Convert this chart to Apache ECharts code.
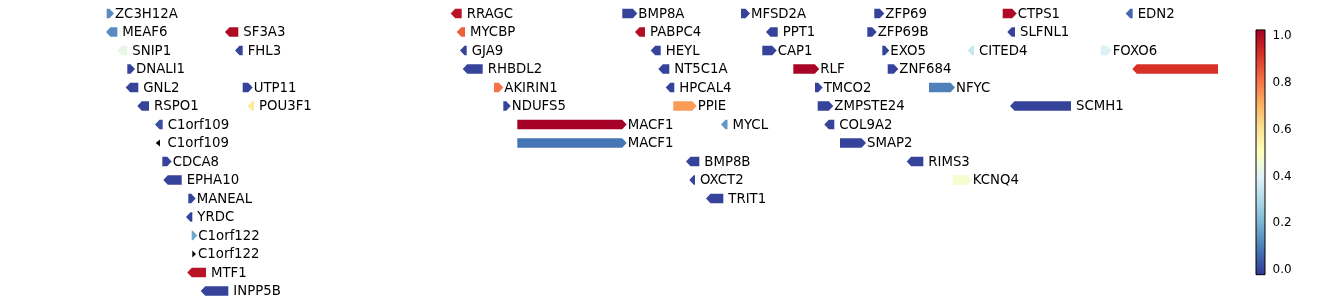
<!DOCTYPE html>
<html><head><meta charset="utf-8">
<script src="https://cdn.jsdelivr.net/npm/echarts@6/dist/echarts.min.js"></script>
<style>html,body{margin:0;padding:0;background:#fff}#c{width:1338px;height:305px}</style>
</head><body><div id="c"></div>
<script>
// ---- data (x in track units, row index from top, strand +1/-1, score, null = missing) ----
const geneNames  = ['ZC3H12A','MEAF6','SF3A3','SNIP1','FHL3','DNALI1','GNL2','UTP11','RSPO1','POU3F1',
  'C1orf109','C1orf109','CDCA8','EPHA10','MANEAL','YRDC','C1orf122','C1orf122','MTF1','INPP5B',
  'RRAGC','MYCBP','GJA9','RHBDL2','AKIRIN1','NDUFS5','MACF1','MACF1','BMP8A','PABPC4',
  'HEYL','NT5C1A','HPCAL4','PPIE','MYCL','BMP8B','OXCT2','TRIT1','MFSD2A','PPT1',
  'CAP1','RLF','TMCO2','ZMPSTE24','COL9A2','SMAP2','ZFP69','ZFP69B','EXO5','ZNF684',
  'NFYC','RIMS3','KCNQ4','CTPS1','SLFNL1','CITED4','SCMH1','EDN2','FOXO6',''];
const geneStart  = [106.7,106,225,117.3,235,127.3,125.7,242.7,137.3,247.7,
  155,155.7,162.3,163.3,188.3,186,191.7,192.3,187.3,200.7,
  450.7,456.7,460,462.7,494,503.3,517.3,517.3,622.3,635,
  650.7,658.3,665.7,673.3,721,686,689.3,706,741,766,
  762.3,793.3,815,817.7,824.3,840,874.3,867.3,882.3,887.7,
  929,906.7,952.7,1002.7,1007.3,967.7,1010,1125.7,1100.7,1132.3];
const geneEnd    = [114,117.3,238.3,127.3,242.7,135,138.3,252.7,149,254,
  162.7,160,171.7,181.7,195.7,192.3,197.3,196,206,228.3,
  461.7,465,466.7,482.7,503.3,510.7,626.7,626.7,637.3,645,
  660.7,669.3,674.3,696.7,727.5,699.3,695,723.3,750,777.7,
  776.7,819.3,822.7,833.3,834.3,866,884.3,876.7,889.3,898.3,
  955,923.3,971.7,1016.7,1015,974,1071,1132.7,1111.7,1300];
const geneRow    = [0,1,1,2,2,3,4,4,5,5, 6,7,8,9,10,11,12,13,14,15,
  0,1,2,3,4,5,6,7,0,1, 2,3,4,5,6,8,9,10,0,1,
  2,3,4,5,6,7,0,1,2,3, 4,8,9,0,1,2,5,0,2,3];
const geneStrand = [1,-1,-1,-1,-1,1,-1,1,-1,-1, -1,-1,1,-1,1,-1,1,1,-1,-1,
  -1,-1,-1,-1,1,1,1,1,1,-1, -1,-1,-1,1,-1,-1,-1,-1,1,-1,
  1,1,1,1,-1,1,1,1,1,1, 1,-1,1,1,-1,-1,-1,-1,1,-1];
const geneScore  = [0.14,0.14,0.98,0.43,0.02,0.02,0.02,0.02,0.02,0.57,
  0.04,null,0.02,0.02,0.02,0.02,0.19,null,0.96,0.02,
  0.96,0.82,0.02,0.02,0.79,0.02,1.0,0.1,0.02,0.97,
  0.02,0.02,0.02,0.73,0.16,0.02,0.02,0.02,0.02,0.02,
  0.02,0.99,0.02,0.02,0.02,0.02,0.02,0.02,0.02,0.02,
  0.12,0.02,0.47,0.98,0.02,0.35,0.02,0.08,0.39,0.9];
const colorbarTicks = ['0.0','0.2','0.4','0.6','0.8','1.0'];
const colorbarRange = [-0.02, 1.026];
// RdYlBu_r colormap
const cmapColors = ['#313695','#4575b4','#74add1','#abd9e9','#e0f3f8','#ffffbf','#fee090','#fdae61','#f46d43','#d73027','#a50026'];

function hex(c){return [parseInt(c.slice(1,3),16),parseInt(c.slice(3,5),16),parseInt(c.slice(5,7),16)];}
function cmap(v){
  if (v === null || v === undefined) return '#000000';
  v = Math.max(0, Math.min(1, v));
  const n = cmapColors.length - 1;
  const p = v * n, i = Math.min(n - 1, Math.floor(p)), t = p - i;
  const a = hex(cmapColors[i]), b = hex(cmapColors[i+1]);
  return 'rgb(' + a.map((x,k)=>Math.round(x + (b[k]-x)*t)).join(',') + ')';
}

const geneData = geneNames.map((n,i)=>[geneStart[i], geneEnd[i], geneRow[i], geneStrand[i]]);

const HEAD = 4.5;
function renderGene(params, api){
  const i = params.dataIndex;
  const missing = geneScore[i] === null;
  const HALF = missing ? 3.6 : 4.8;
  const cs = params.coordSys;
  const right = cs.x + cs.width;
  const s = api.coord([api.value(0), api.value(2)]);
  const e = api.coord([api.value(1), api.value(2)]);
  const y = s[1];
  const len = e[0] - s[0];
  const head = Math.min(HEAD, len);
  const fwd = api.value(3) > 0;
  let pts;
  if (fwd) {
    pts = [[s[0],y-HALF],[e[0]-head,y-HALF],[e[0],y],[e[0]-head,y+HALF],[s[0],y+HALF]];
  } else {
    pts = [[e[0],y-HALF],[s[0]+head,y-HALF],[s[0],y],[s[0]+head,y+HALF],[e[0],y+HALF]];
  }
  pts = pts.map(p=>[Math.min(p[0], right), p[1]]);
  const children = [{type:'polygon', shape:{points:pts}, style:{fill:cmap(geneScore[i])}}];
  const lx = e[0] + (fwd ? 1 : 5) + (missing ? (fwd ? 1 : 2.5) : 0);
  if (lx < right && geneNames[i]) {
    children.push({type:'text', style:{text:geneNames[i], x:lx, y:y + 1, fill:'#000',
      fontSize:13.3, fontFamily:'DejaVu Sans', align:'left', verticalAlign:'middle'}});
  }
  return {type:'group', children};
}

function renderColorbar(params, api){
  const cs = params.coordSys;
  const top = api.coord([0, colorbarRange[1]])[1], bot = api.coord([0, colorbarRange[0]])[1];
  const stops = cmapColors.map((c,k)=>({offset:k/(cmapColors.length-1), color:c}));
  return {type:'rect', shape:{x:cs.x, y:top, width:cs.width, height:bot-top},
    style:{fill:new echarts.graphic.LinearGradient(0,1,0,0,stops), stroke:'#000', lineWidth:1}};
}

const chart = echarts.init(document.getElementById('c'), null, {renderer:'canvas'});
chart.setOption({
  animation:false,
  backgroundColor:'#fff',
  grid:[
    {left:100, top:4.25, width:1118, height:296},
    {left:1256, top:36, width:9, height:234}
  ],
  xAxis:[
    {gridIndex:0, type:'value', min:100, max:1218, show:false},
    {gridIndex:1, type:'value', min:0, max:1, show:false}
  ],
  yAxis:[
    {gridIndex:0, type:'value', inverse:true, min:-0.5, max:15.5, show:false},
    {gridIndex:1, type:'value', min:0, max:1, interval:0.2, position:'right',
      axisLine:{show:false},
      axisTick:{show:true, length:3.5, lineStyle:{color:'#000'}},
      splitLine:{show:false},
      axisLabel:{color:'#000', fontSize:12, fontFamily:'DejaVu Sans', margin:7.5,
        formatter:(v)=>colorbarTicks[Math.round(v/0.2)]}}
  ],
  series:[
    {type:'custom', xAxisIndex:0, yAxisIndex:0, renderItem:renderGene, data:geneData,
      encode:{x:[0,1], y:2}},
    {type:'custom', xAxisIndex:1, yAxisIndex:1, renderItem:renderColorbar, data:[[0,0]], z:1}
  ]
});
</script>
</body></html>
